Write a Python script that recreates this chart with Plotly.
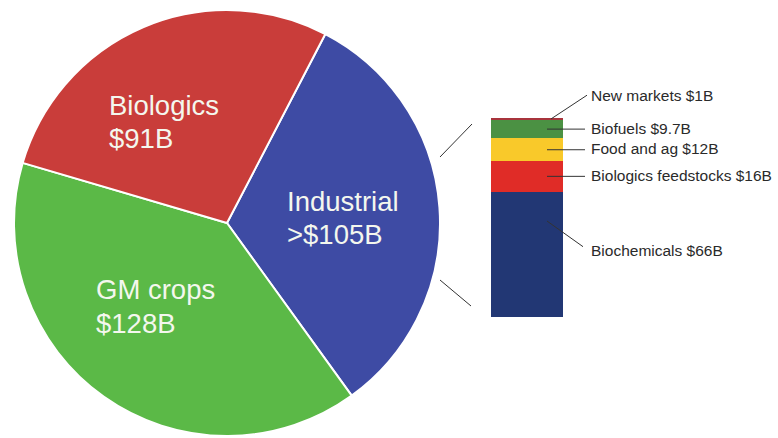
import plotly.graph_objects as go

# Market segments of the bioeconomy (pie)
sectors = ["Industrial", "GM crops", "Biologics"]
sector_values = [105, 128, 91]
sector_prefix = [">", "", ""]
sector_colors = ["#3e4ba4", "#5bb947", "#c93d3a"]

# Breakdown of the industrial segment (stacked bar, bottom to top)
parts = ["Biochemicals", "Biologics feedstocks", "Food and ag", "Biofuels", "New markets"]
part_values = [66, 16, 12, 9.7, 1]
part_colors = ["#223774", "#e02c27", "#f9c92a", "#4b9143", "#a8343c"]

W, H = 778, 438
FONT = "Liberation Sans, Arial, Helvetica, sans-serif"


def fmt(v):
    return f"{v:g}"


# Pixel layout of the bar column
bar_left, bar_right, bar_bottom, bar_top = 491, 563, 317, 118
total = sum(part_values)
px_per_unit = (bar_bottom - bar_top) / total
bar_cx = (bar_left + bar_right) / 2
bar_w = bar_right - bar_left

# Axis ranges spanning the whole canvas so the bar lands at its pixel spot
x_range = [-bar_cx / bar_w, (W - bar_cx) / bar_w]
y_range = [-(H - bar_bottom) / px_per_unit, bar_bottom / px_per_unit]


def xd(px):
    return (px - bar_cx) / bar_w


fig = go.Figure()

# Pie
pie_cx, pie_cy, pie_r = 227, 223, 213
fig.add_trace(go.Pie(
    labels=sectors,
    values=sector_values,
    marker=dict(colors=sector_colors, line=dict(color="white", width=2)),
    sort=False,
    direction="clockwise",
    rotation=27.5,
    textinfo="none",
    hoverinfo="label+value",
    domain=dict(x=[(pie_cx - pie_r) / W, (pie_cx + pie_r) / W],
                y=[1 - (pie_cy + pie_r) / H, 1 - (pie_cy - pie_r) / H]),
    showlegend=False,
))

# Stacked bar
for name, val, col in zip(parts, part_values, part_colors):
    fig.add_trace(go.Bar(
        x=[0], y=[val], name=name, width=1,
        marker=dict(color=col, line=dict(width=0)),
        showlegend=False, hoverinfo="name+y",
    ))

annotations = []
shapes = []

# Pie labels: two lines each, left aligned
pie_label_pos = {
    "Biologics": (107, 106, 138.5),
    "Industrial": (285, 201.5, 234),
    "GM crops": (94, 289, 323),
}
for name, val, pre in zip(sectors, sector_values, sector_prefix):
    x, y1, y2 = pie_label_pos[name]
    for txt, y in ((name, y1), (f"{pre}${fmt(val)}B", y2)):
        annotations.append(dict(
            text=txt, x=x / W, y=1 - y / H, xref="paper", yref="paper",
            xanchor="left", yanchor="middle", showarrow=False,
            font=dict(family=FONT, size=27.5, color="#f4f7ee"),
        ))

# Zoom lines linking the pie slice to the bar
for (x0, y0, x1, y1) in ((440, 157, 472, 124), (440, 280, 471, 306)):
    shapes.append(dict(type="line", xref="paper", yref="paper",
                       x0=x0 / W, y0=1 - y0 / H, x1=x1 / W, y1=1 - y1 / H,
                       line=dict(color="#333333", width=1)))

# Bar callouts
cum = 0
mids = []
for v in part_values:
    mids.append(cum + v / 2)
    cum += v

line_col = "#333333"
label_x = xd(589)
for name, val, mid in zip(parts, part_values, mids):
    if name == "New markets":
        sx, sy, ex, ey, ly = xd(551), mid, xd(587), total + 12, total + 12
    elif name == "Biochemicals":
        sx, sy, ex, ey, ly = xd(547), mid + 17.5, xd(583), mid + 4, mid + 2
    else:
        sx, sy, ex, ey, ly = xd(547), mid, xd(585), mid, mid + 0.5
    shapes.append(dict(type="line", xref="x", yref="y", x0=sx, y0=sy, x1=ex, y1=ey,
                       line=dict(color=line_col, width=1)))
    annotations.append(dict(
        text=f"{name} ${fmt(val)}B", x=label_x, y=ly, xref="x", yref="y",
        xanchor="left", yanchor="middle", showarrow=False,
        font=dict(family=FONT, size=15.5, color="#2a2a2a"),
    ))

fig.update_layout(
    width=W, height=H,
    margin=dict(l=0, r=0, t=0, b=0),
    paper_bgcolor="white", plot_bgcolor="rgba(0,0,0,0)",
    barmode="stack", bargap=0,
    xaxis=dict(range=x_range, domain=[0, 1], visible=False, fixedrange=True),
    yaxis=dict(range=y_range, domain=[0, 1], visible=False, fixedrange=True),
    annotations=annotations, shapes=shapes,
    showlegend=False,
)

fig.write_html("out.html")
